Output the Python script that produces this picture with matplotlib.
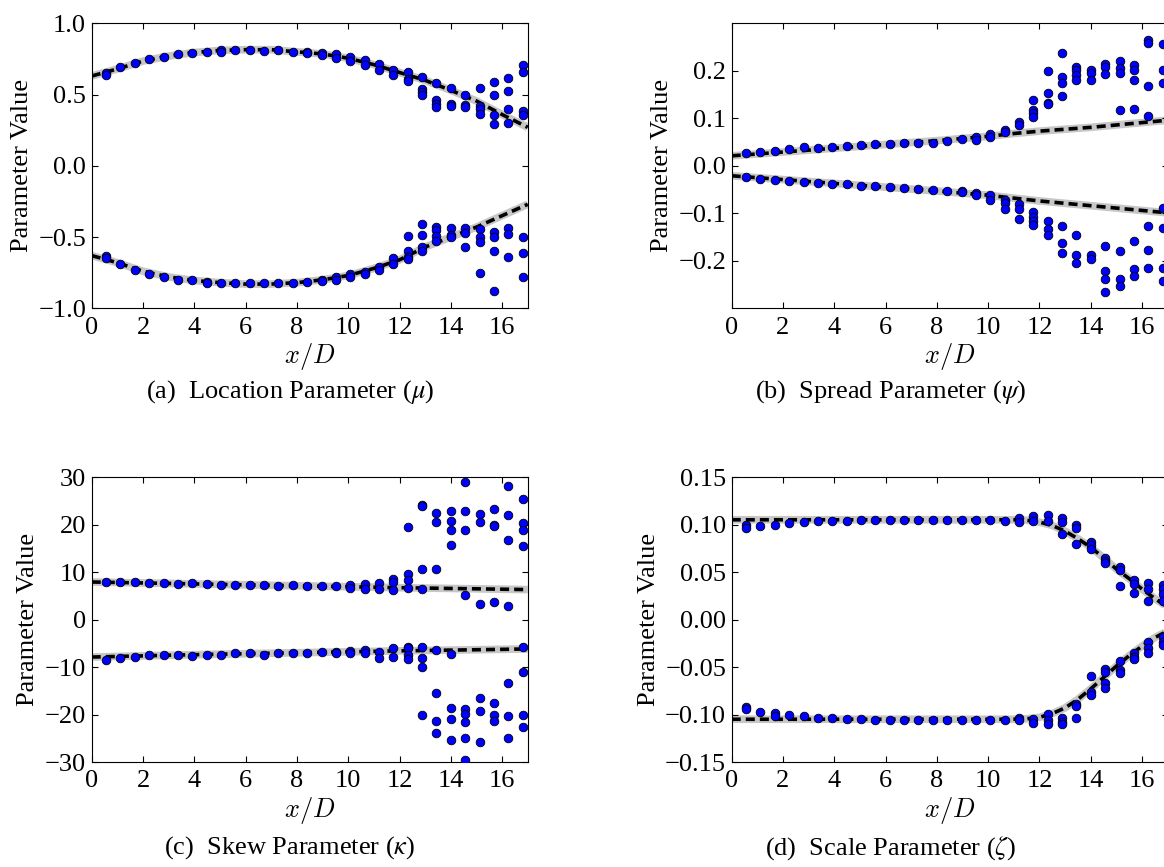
import matplotlib
matplotlib.use("Agg")
import matplotlib.pyplot as plt

plt.rcParams['font.family'] = 'serif'
plt.rcParams['font.serif'] = ['Liberation Serif', 'DejaVu Serif']
plt.rcParams['mathtext.fontset'] = 'stix'
plt.rcParams['font.size'] = 19
plt.rcParams['xtick.direction'] = 'in'
plt.rcParams['ytick.direction'] = 'in'
plt.rcParams['xtick.top'] = True
plt.rcParams['ytick.right'] = True
plt.rcParams['xtick.major.size'] = 4
plt.rcParams['ytick.major.size'] = 4
plt.rcParams['xtick.major.pad'] = 6
plt.rcParams['ytick.major.pad'] = 4

# streamwise stations x/D where the parameters were estimated
x_pos = [0.56, 1.12, 1.68, 2.24, 2.80, 3.36, 3.92, 4.48, 5.04, 5.60,
         6.16, 6.72, 7.28, 7.84, 8.40, 8.96, 9.52, 10.08, 10.64, 11.20,
         11.76, 12.32, 12.88, 13.44, 14.00, 14.56, 15.12, 15.68, 16.24, 16.80]

# (a) location parameter, estimates per station
mu_upper = [[0.65, 0.64], [0.69], [0.72], [0.747], [0.765], [0.785], [0.79], [0.80], [0.81, 0.80], [0.81],
            [0.81], [0.805], [0.81], [0.80], [0.80, 0.79], [0.79, 0.775], [0.785, 0.76], [0.765, 0.737], [0.74, 0.706], [0.718, 0.67],
            [0.67, 0.636], [0.66, 0.61, 0.595], [0.62, 0.54, 0.52, 0.50], [0.578, 0.46, 0.433, 0.41], [0.543, 0.433, 0.42],
            [0.50, 0.43, 0.41], [0.547, 0.42, 0.40, 0.367], [0.59, 0.50, 0.355, 0.29], [0.613, 0.524, 0.40, 0.297], [0.706, 0.655, 0.385, 0.355]]
mu_lower = [[-0.634, -0.65], [-0.69], [-0.73], [-0.76], [-0.78], [-0.80], [-0.80], [-0.815, -0.82], [-0.82], [-0.825],
            [-0.825], [-0.825], [-0.825], [-0.82], [-0.815], [-0.80, -0.81], [-0.78, -0.80], [-0.76, -0.78], [-0.745, -0.76], [-0.71, -0.73],
            [-0.646, -0.686], [-0.494, -0.597, -0.643, -0.657], [-0.41, -0.487, -0.57, -0.60], [-0.428, -0.45, -0.494, -0.527], [-0.435, -0.487, -0.498],
            [-0.435, -0.47, -0.57], [-0.44, -0.50, -0.533, -0.75], [-0.463, -0.498, -0.597, -0.877], [-0.435, -0.482, -0.643], [-0.498, -0.615, -0.78]]
mu_fit_x = [0, 1, 2, 3, 4, 5, 6, 7, 8, 9, 10, 11, 12, 13, 14, 15, 16, 17]
mu_fit_upper = [0.63, 0.68, 0.735, 0.77, 0.795, 0.81, 0.815, 0.815, 0.80, 0.785, 0.755, 0.71, 0.655, 0.60, 0.53, 0.455, 0.36, 0.27]
mu_fit_lower = [-0.63, -0.68, -0.74, -0.78, -0.805, -0.82, -0.83, -0.83, -0.82, -0.80, -0.77, -0.72, -0.66, -0.57, -0.50, -0.43, -0.35, -0.27]

# (b) spread parameter
psi_upper = [[0.026], [0.030], [0.032], [0.035], [0.040], [0.038], [0.040], [0.042], [0.044], [0.045],
             [0.046], [0.049], [0.047], [0.049], [0.053], [0.056], [0.060, 0.054], [0.067, 0.061], [0.075, 0.072], [0.093, 0.086],
             [0.139, 0.118, 0.112, 0.102], [0.199, 0.154, 0.133, 0.130], [0.237, 0.187, 0.174, 0.146], [0.209, 0.201, 0.192, 0.181], [0.201, 0.196, 0.181],
             [0.215, 0.209, 0.194], [0.220, 0.206, 0.196, 0.118], [0.213, 0.202, 0.180, 0.120], [0.265, 0.258, 0.169, 0.105], [0.257, 0.202, 0.175]]
psi_lower = [[-0.023], [-0.027], [-0.030], [-0.032], [-0.035], [-0.036], [-0.039], [-0.039], [-0.042], [-0.043],
             [-0.044], [-0.046], [-0.049], [-0.050], [-0.053], [-0.054, -0.055], [-0.057, -0.062], [-0.062, -0.071], [-0.071, -0.078, -0.090], [-0.081, -0.090, -0.111],
             [-0.097, -0.108, -0.116, -0.125], [-0.117, -0.132, -0.146], [-0.127, -0.162, -0.184], [-0.145, -0.187, -0.205], [-0.187, -0.196],
             [-0.168, -0.222, -0.238, -0.265], [-0.180, -0.238, -0.254], [-0.159, -0.217, -0.233], [-0.127, -0.177, -0.215], [-0.088, -0.130, -0.216, -0.243]]
psi_fit_x = [0, 2, 4, 6, 8, 10, 11, 12, 13, 14, 15, 16, 17]
psi_fit_upper = [0.021, 0.029, 0.037, 0.045, 0.053, 0.062, 0.068, 0.073, 0.077, 0.081, 0.086, 0.091, 0.096]
psi_fit_lower = [-0.021, -0.029, -0.037, -0.045, -0.053, -0.062, -0.068, -0.074, -0.079, -0.084, -0.089, -0.094, -0.099]

# (c) skew parameter
kappa_upper = [[7.9], [7.85], [7.8], [7.6], [7.7], [7.4], [7.6], [7.4], [7.3], [7.3],
               [7.3], [7.3], [7.0], [7.3], [7.15], [7.15], [7.1], [7.2, 6.7], [7.4, 6.5], [7.6, 6.5],
               [8.5, 7.8, 6.2], [19.5, 9.5, 8.3, 6.7], [24.2, 23.9, 10.7, 6.5], [22.4, 20.5, 10.6], [22.8, 20.7, 18.8, 15.6],
               [28.9, 22.8, 18.9, 5.1], [22.3, 20.5, 3.2], [23.3, 20.0, 19.6, 3.7], [28.2, 21.9, 16.7, 2.9], [25.3, 20.3, 18.9, 15.4]]
kappa_lower = [[-8.5], [-8.1], [-7.8], [-7.5], [-7.5], [-7.5], [-7.6], [-7.4], [-7.4], [-7.1],
               [-7.1], [-7.4], [-7.1], [-7.0], [-7.1], [-6.9], [-6.8, -7.1], [-6.7, -7.1], [-6.5, -7.1], [-6.8, -8.0],
               [-6.0, -7.8], [-5.7, -6.1, -7.5, -8.4], [-5.7, -8.0, -10.0, -20.1], [-6.4, -15.4, -21.3, -23.8], [-7.3, -18.7, -21.0, -25.3],
               [-18.9, -19.8, -21.5, -25.0, -29.6], [-16.6, -19.3, -25.8], [-17.5, -20.1, -21.4], [-13.3, -20.3, -25.0], [-5.7, -11.0, -20.0, -22.7]]
kappa_fit_x = [0, 4, 8, 12, 17]
kappa_fit_upper = [7.9, 7.5, 7.1, 6.7, 6.3]
kappa_fit_lower = [-7.9, -7.4, -7.0, -6.6, -6.2]

# (d) scale parameter
zeta_upper = [[0.099, 0.0967], [0.098], [0.100], [0.1016], [0.1026], [0.1033], [0.104], [0.104], [0.105], [0.105],
              [0.105], [0.105], [0.105], [0.105], [0.105], [0.105], [0.105], [0.105], [0.104], [0.107, 0.1026],
              [0.109, 0.1037], [0.1096, 0.104], [0.107, 0.1026, 0.090], [0.099, 0.0967, 0.079], [0.0816, 0.078, 0.0746],
              [0.065, 0.062, 0.0595], [0.055, 0.0525, 0.035], [0.042, 0.037, 0.028], [0.038, 0.0326, 0.019], [0.036, 0.0326, 0.027, 0.020]]
zeta_lower = [[-0.0925, -0.094], [-0.097], [-0.0988, -0.1016], [-0.1005], [-0.102], [-0.1033], [-0.104], [-0.1047], [-0.105], [-0.1058],
              [-0.1058], [-0.1058], [-0.1058], [-0.1058], [-0.1058], [-0.1058], [-0.1058], [-0.1058], [-0.1058], [-0.1033, -0.1058],
              [-0.105, -0.1093], [-0.0995, -0.1058, -0.110], [-0.104, -0.1075, -0.110], [-0.089, -0.091, -0.104], [-0.0595, -0.076, -0.0795],
              [-0.0525, -0.055, -0.0672, -0.0725], [-0.0434, -0.053, -0.0567], [-0.0357, -0.039, -0.042], [-0.0235, -0.0305, -0.035], [-0.018, -0.0235, -0.027]]
zeta_fit_x = [0, 11, 11.5, 12, 12.5, 13, 13.5, 14, 14.5, 15, 15.5, 16, 16.5, 17]
zeta_fit_upper = [0.105, 0.105, 0.1045, 0.1025, 0.099, 0.093, 0.085, 0.076, 0.065, 0.053, 0.043, 0.032, 0.022, 0.013]
zeta_fit_lower = [-0.105, -0.105, -0.1045, -0.103, -0.099, -0.093, -0.084, -0.073, -0.061, -0.049, -0.038, -0.028, -0.019, -0.012]

captions = [r'(a)  Location Parameter ($\mu$)', r'(b)  Spread Parameter ($\psi$)',
            r'(c)  Skew Parameter ($\kappa$)', r'(d)  Scale Parameter ($\zeta$)']


def flatten(stations, groups):
    xs, ys = [], []
    for x, vals in zip(stations, groups):
        for v in vals:
            xs.append(x)
            ys.append(v)
    return xs, ys


def draw_panel(ax, upper, lower, fit_x, fit_up, fit_lo, ylim, yticks):
    for fit in (fit_up, fit_lo):
        ax.plot(fit_x, fit, color='0.78', lw=5.5, solid_capstyle='butt', zorder=1)
        ax.plot(fit_x, fit, color='k', lw=2.6, ls=(0, (2.5, 1.4)), zorder=2)
    for branch in (upper, lower):
        xs, ys = flatten(x_pos, branch)
        ax.plot(xs, ys, 'o', color='#0000ff', mec='k', mew=0.6, ms=6.2, zorder=3)
    ax.set_xlim(0, 17)
    ax.set_ylim(*ylim)
    ax.set_xticks([0, 2, 4, 6, 8, 10, 12, 14, 16])
    ax.set_yticks(yticks)
    ax.set_xlabel('$x/D$', math_fontfamily='cm', labelpad=2)
    ax.set_ylabel('Parameter Value', labelpad=4)


fig = plt.figure(figsize=(11.64, 8.67), dpi=100)
w, h = 0.3746, 0.3287
ax_a = fig.add_axes([0.0788, 0.6444, w, h])
ax_b = fig.add_axes([0.6286, 0.6444, w, h])
ax_c = fig.add_axes([0.0788, 0.1211, w, h])
ax_d = fig.add_axes([0.6286, 0.1211, w, h])

draw_panel(ax_a, mu_upper, mu_lower, mu_fit_x, mu_fit_upper, mu_fit_lower,
           (-1.0, 1.0), [-1.0, -0.5, 0.0, 0.5, 1.0])
draw_panel(ax_b, psi_upper, psi_lower, psi_fit_x, psi_fit_upper, psi_fit_lower,
           (-0.3, 0.3), [-0.2, -0.1, 0.0, 0.1, 0.2])
draw_panel(ax_c, kappa_upper, kappa_lower, kappa_fit_x, kappa_fit_upper, kappa_fit_lower,
           (-30, 30), [-30, -20, -10, 0, 10, 20, 30])
draw_panel(ax_d, zeta_upper, zeta_lower, zeta_fit_x, zeta_fit_upper, zeta_fit_lower,
           (-0.15, 0.15), [-0.15, -0.10, -0.05, 0.0, 0.05, 0.10, 0.15])

for (cx, cy), text in zip([(0.249, 0.548), (0.765, 0.548), (0.249, 0.022), (0.765, 0.022)], captions):
    fig.text(cx, cy, text, ha='center', va='center', fontsize=19)

fig.savefig('out.png', dpi=100)
